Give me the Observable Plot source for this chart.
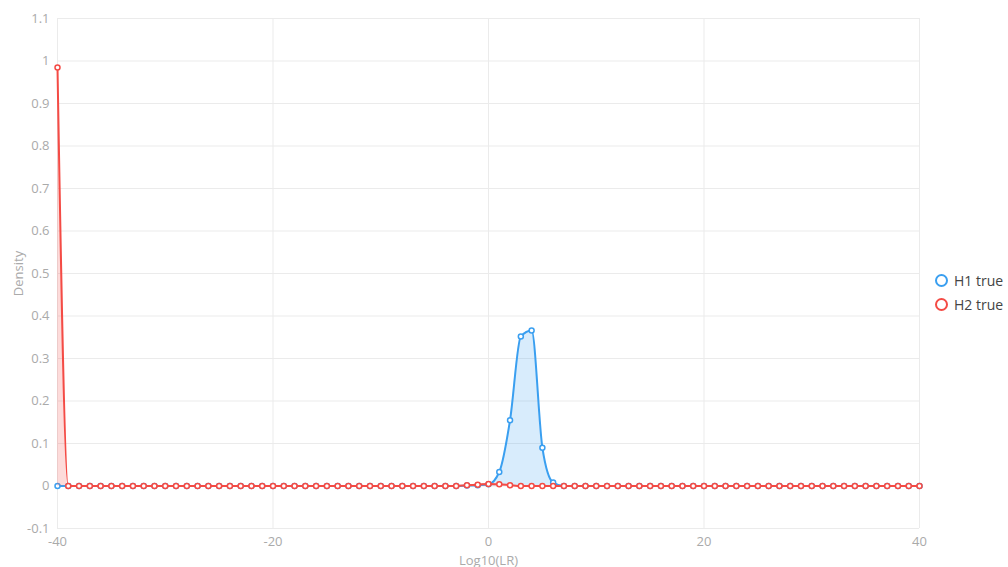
<!DOCTYPE html>
<html>
<head>
<meta charset="utf-8">
<script src="https://cdn.jsdelivr.net/npm/d3@7"></script>
<script src="https://cdn.jsdelivr.net/npm/@observablehq/plot@0.6"></script>
<style>
  html, body { margin: 0; padding: 0; background: #fff; }
  #wrap { position: relative; width: 1008px; height: 567px; font-family: "Open Sans", sans-serif; }
  #legend { position: absolute; left: 935px; top: 268px; font-size: 14px; color: #444; }
  .item { display: flex; align-items: center; height: 24px; }
  .sw { width: 9px; height: 9px; border-radius: 50%; border: 2px solid; margin-right: 6px; background: #fff; }
</style>
</head>
<body>
<div id="wrap"><div id="chart"></div><div id="legend"></div></div>
<script>
const lr = [-40,-39,-38,-37,-36,-35,-34,-33,-32,-31,-30,-29,-28,-27,-26,-25,-24,-23,-22,-21,
  -20,-19,-18,-17,-16,-15,-14,-13,-12,-11,-10,-9,-8,-7,-6,-5,-4,-3,-2,-1,
  0,1,2,3,4,5,6,7,8,9,10,11,12,13,14,15,16,17,18,19,
  20,21,22,23,24,25,26,27,28,29,30,31,32,33,34,35,36,37,38,39,40];
const h1True = [0,0,0,0,0,0,0,0,0,0,0,0,0,0,0,0,0,0,0,0,
  0,0,0,0,0,0,0,0,0,0,0,0,0,0,0,0,0,0,0.001,0.002,
  0.004,0.033,0.155,0.352,0.366,0.09,0.008,0,0,0,0,0,0,0,0,0,0,0,0,0,
  0,0,0,0,0,0,0,0,0,0,0,0,0,0,0,0,0,0,0,0,0];
const h2True = [0.985,0,0,0,0,0,0,0,0,0,0,0,0,0,0,0,0,0,0,0,
  0,0,0,0,0,0,0,0,0,0,0,0,0,0,0,0,0,0,0.002,0.003,
  0.005,0.004,0.002,0,0,0,0,0,0,0,0,0,0,0,0,0,0,0,0,0,
  0,0,0,0,0,0,0,0,0,0,0,0,0,0,0,0,0,0,0,0,0];
const seriesNames = ["H1 true", "H2 true"];
const seriesColors = ["#3a9ff0", "#f44b45"];
const seriesFills = ["rgba(58,159,240,0.2)", "rgba(244,75,69,0.2)"];
const xTicks = [-40, -20, 0, 20, 40];
const yTicks = [-0.1,0,0.1,0.2,0.3,0.4,0.5,0.6,0.7,0.8,0.9,1,1.1];

const series = [h1True, h2True].map((vals, i) => lr.map((x, j) => ({x, y: vals[j], s: seriesNames[i]})));

const marks = [
  Plot.gridX(xTicks, {stroke: "#ebebeb", strokeOpacity: 1}),
  Plot.gridY(yTicks, {stroke: "#ebebeb", strokeOpacity: 1}),
  Plot.axisX(xTicks, {tickSize: 0, tickPadding: 8, fontSize: 13, fill: "#aaa", tickFormat: d => String(d), label: "Log10(LR)", labelAnchor: "center", labelArrow: "none", labelOffset: 36}),
  Plot.axisY(yTicks, {tickSize: 0, tickPadding: 8, fontSize: 13, fill: "#aaa", tickFormat: d => String(+d.toFixed(1)), label: "Density", labelAnchor: "center", labelArrow: "none", labelOffset: 44}),
];
series.forEach((data, i) => {
  marks.push(Plot.areaY(data, {x: "x", y: "y", fill: seriesFills[i], curve: "monotone-x"}));
  marks.push(Plot.lineY(data, {x: "x", y: "y", stroke: seriesColors[i], strokeWidth: 2, curve: "monotone-x"}));
  marks.push(Plot.dot(data, {x: "x", y: "y", r: 2.5, stroke: seriesColors[i], strokeWidth: 1.5, fill: "white"}));
});

const chart = Plot.plot({
  width: 1008,
  height: 567,
  marginLeft: 57,
  marginRight: 89,
  marginTop: 18,
  marginBottom: 39,
  style: {fontFamily: "Open Sans, sans-serif", fontSize: "13px", color: "#aaa", background: "#fff"},
  x: {domain: [-40, 40]},
  y: {domain: [-0.1, 1.1]},
  marks
});
document.getElementById("chart").appendChild(chart);

const legend = document.getElementById("legend");
seriesNames.forEach((name, i) => {
  const it = document.createElement("div");
  it.className = "item";
  const sw = document.createElement("span");
  sw.className = "sw";
  sw.style.borderColor = seriesColors[i];
  it.appendChild(sw);
  it.appendChild(document.createTextNode(name));
  legend.appendChild(it);
});
</script>
</body>
</html>
